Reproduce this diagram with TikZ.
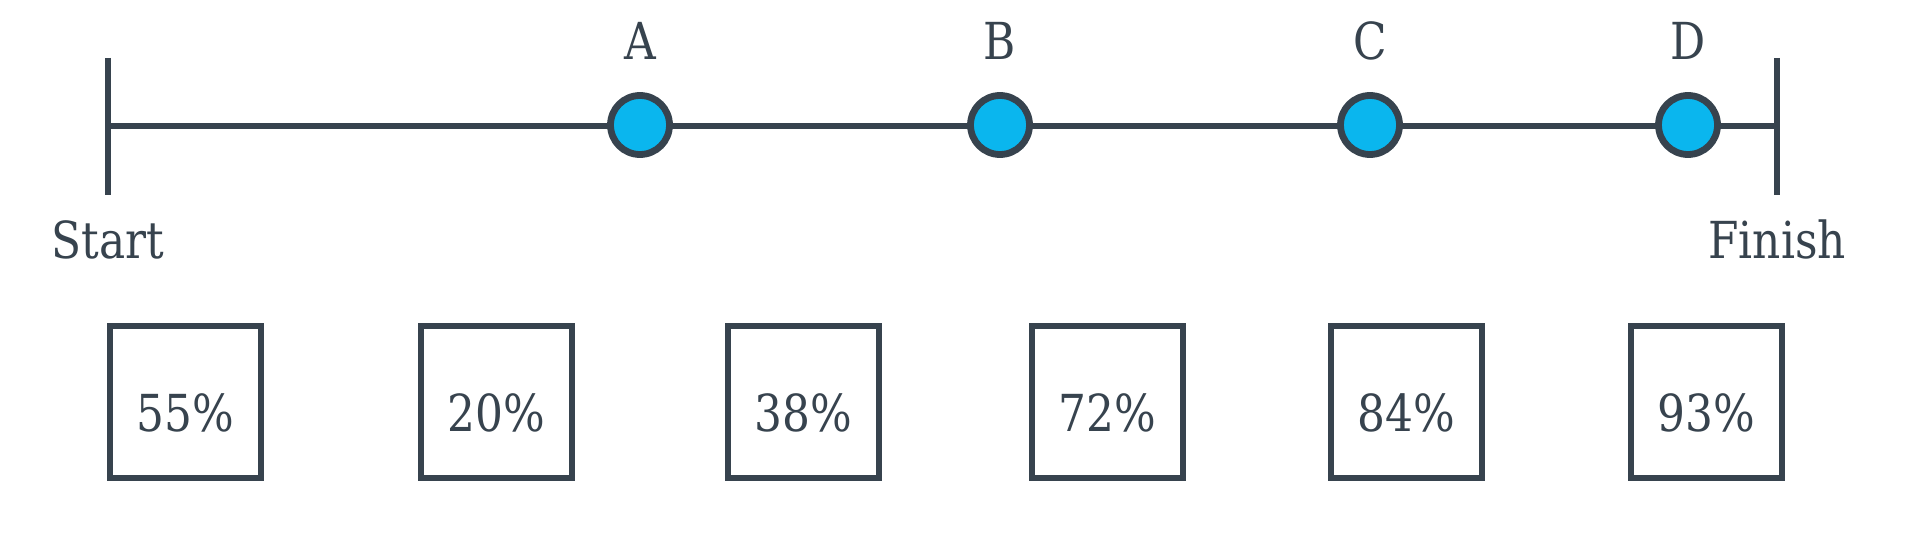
\documentclass[tikz,border=0pt]{standalone}
\usepackage{fontspec}
\setmainfont{DejaVu Serif}[FakeStretch=0.86]
\definecolor{ink}{HTML}{37434E}
\definecolor{dotfill}{HTML}{0AB6EE}
\begin{document}
\begin{tikzpicture}[x=0.5pt,y=-0.5pt,
  txt/.style={text=ink,font=\fontsize{25.5pt}{30pt}\selectfont,inner sep=0pt,anchor=base},
  dot/.style={circle,draw=ink,fill=dotfill,line width=3.4pt,minimum size=29.5pt,inner sep=0pt},
  tick/.style={draw=ink,line width=2.8pt},
  pbox/.style={draw=ink,line width=3pt,minimum width=75.5pt,minimum height=76pt,inner sep=0pt}]
\fill[white] (0,0) rectangle (1920,535);
\useasboundingbox (0,0) rectangle (1920,535);
% ticks
\coordinate (s) at (108,126);
\coordinate (f) at (1777,126);
\coordinate (st) at (108,58);
\coordinate (sb) at (108,195);
\coordinate (ft) at (1777,58);
\coordinate (fb) at (1777,195);
\draw[tick] (st) -- (sb);
\draw[tick] (ft) -- (fb);
\draw[tick] (s) -- (f);
% dots
\node[dot] (A) at (640,125) {};
\node[dot] (B) at (1000,125) {};
\node[dot] (C) at (1370,125) {};
\node[dot] (D) at (1688,125) {};
\node[txt] (lA) at (640,60) {A};
\node[txt] (lB) at (1000,60) {B};
\node[txt] (lC) at (1370,60) {C};
\node[txt] (lD) at (1688,60) {D};
\node[txt] (start) at (108,258) {Start};
\node[txt] (finish) at (1777,258) {Finish};
% boxes
\node[pbox] (b1) at (185.5,402) {};
\node[pbox] (b2) at (496.5,402) {};
\node[pbox] (b3) at (803,402) {};
\node[pbox] (b4) at (1107.5,402) {};
\node[pbox] (b5) at (1406,402) {};
\node[pbox] (b6) at (1706,402) {};
\node[txt] (t1) at (185.5,431) {55\%};
\node[txt] (t2) at (496.5,431) {20\%};
\node[txt] (t3) at (803,431) {38\%};
\node[txt] (t4) at (1107.5,431) {72\%};
\node[txt] (t5) at (1406,431) {84\%};
\node[txt] (t6) at (1706,431) {93\%};
\end{tikzpicture}
\end{document}
